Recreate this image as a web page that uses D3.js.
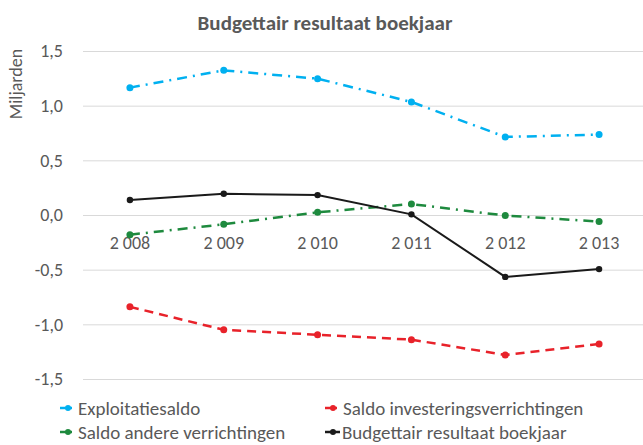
<!DOCTYPE html>
<html>
<head>
<meta charset="utf-8">
<script src="https://cdnjs.cloudflare.com/ajax/libs/d3/7.8.5/d3.min.js"></script>
<style>
  body { margin: 0; background: #fff; }
  svg text { font-family: Carlito, Calibri, Lato, sans-serif; fill: #595959; }
</style>
</head>
<body>
<div id="chart"></div>
<script>
// data (billions)
var years = ["2 008", "2 009", "2 010", "2 011", "2 012", "2 013"];
var exploitatie = [1.165, 1.323, 1.247, 1.034, 0.714, 0.736];
var investering = [-0.84, -1.05, -1.095, -1.14, -1.28, -1.18];
var andere = [-0.18, -0.085, 0.025, 0.10, -0.005, -0.06];
var resultaat = [0.137, 0.195, 0.182, 0.006, -0.566, -0.495];
var yTicks = [-1.5, -1.0, -0.5, 0, 0.5, 1.0, 1.5];

var series = [
  { name: "Exploitatiesaldo", values: exploitatie, color: "#00B0F0", dash: "10,6,2,6", width: 2.5, r: 3.5 },
  { name: "Saldo investeringsverrichtingen", values: investering, color: "#E8222A", dash: "9,6", width: 2.5, r: 3.5 },
  { name: "Saldo andere verrichtingen", values: andere, color: "#1E8A3E", dash: "10,6,2,6", width: 2.5, r: 3.5 },
  { name: "Budgettair resultaat boekjaar", values: resultaat, color: "#1a1a1a", dash: null, width: 2, r: 3.2 }
];

var svgWidth = 643, svgHeight = 445;

var svg = d3.select("#chart")
  .append("svg")
  .attr("width", svgWidth)
  .attr("height", svgHeight);

var x = d3.scaleBand()
  .domain(years)
  .range([83, 646]);

var y = d3.scaleLinear()
  .domain([-1.5, 1.5])
  .range([379, 51]);

var fmt = function(d) { return d3.format(".1f")(d).replace(".", ",").replace("−", "-"); };

// gridlines + y labels
var yAxis = d3.axisLeft(y).tickValues(yTicks).tickSize(-(646 - 83)).tickFormat(fmt);
var yg = svg.append("g")
  .attr("transform", "translate(83,0)")
  .call(yAxis);
yg.select(".domain").remove();
yg.selectAll(".tick line").attr("stroke", "#d9d9d9").attr("stroke-width", 1);
yg.selectAll(".tick text")
  .attr("x", -20)
  .style("font-size", "18px")
  .style("fill", "#595959");

// category labels sit just under the zero line
var xAxis = d3.axisBottom(x).tickSize(0);
var xg = svg.append("g")
  .attr("transform", "translate(0," + y(0) + ")")
  .call(xAxis);
xg.select(".domain").remove();
xg.selectAll(".tick text")
  .attr("y", 34)
  .attr("dy", 0)
  .style("font-size", "18px")
  .style("fill", "#595959");

var line = d3.line()
  .x(function(d, i) { return x(years[i]) + x.bandwidth() / 2; })
  .y(function(d) { return y(d); });

series.forEach(function(s) {
  svg.append("path")
    .datum(s.values)
    .attr("fill", "none")
    .attr("stroke", s.color)
    .attr("stroke-width", s.width)
    .attr("stroke-dasharray", s.dash)
    .attr("d", line);

  svg.selectAll(null)
    .data(s.values)
    .enter()
    .append("circle")
    .attr("cx", function(d, i) { return x(years[i]) + x.bandwidth() / 2; })
    .attr("cy", function(d) { return y(d); })
    .attr("r", s.r)
    .attr("fill", s.color);
});

// title
svg.append("text")
  .attr("x", 325)
  .attr("y", 30)
  .attr("text-anchor", "middle")
  .style("font-size", "21px")
  .style("font-weight", "bold")
  .text("Budgettair resultaat boekjaar");

// y axis label
svg.append("text")
  .attr("transform", "translate(22,84) rotate(-90)")
  .attr("text-anchor", "middle")
  .style("font-size", "18px")
  .text("Miljarden");

// legend
var legendPos = [[60, 408], [325, 408], [60, 432], [325, 432]];
series.forEach(function(s, i) {
  var p = legendPos[i];
  var g = svg.append("g").attr("transform", "translate(" + p[0] + "," + p[1] + ")");
  var len = i === 3 ? 15 : 12;
  g.append("line")
    .attr("x1", 0).attr("x2", len)
    .attr("stroke", s.color)
    .attr("stroke-width", 2.5);
  g.append("circle")
    .attr("cx", 8)
    .attr("r", 3)
    .attr("fill", s.color);
  g.append("text")
    .attr("x", i === 3 ? 17 : 18)
    .attr("dy", "0.35em")
    .style("font-size", "19px")
    .text(s.name);
});
</script>
</body>
</html>
